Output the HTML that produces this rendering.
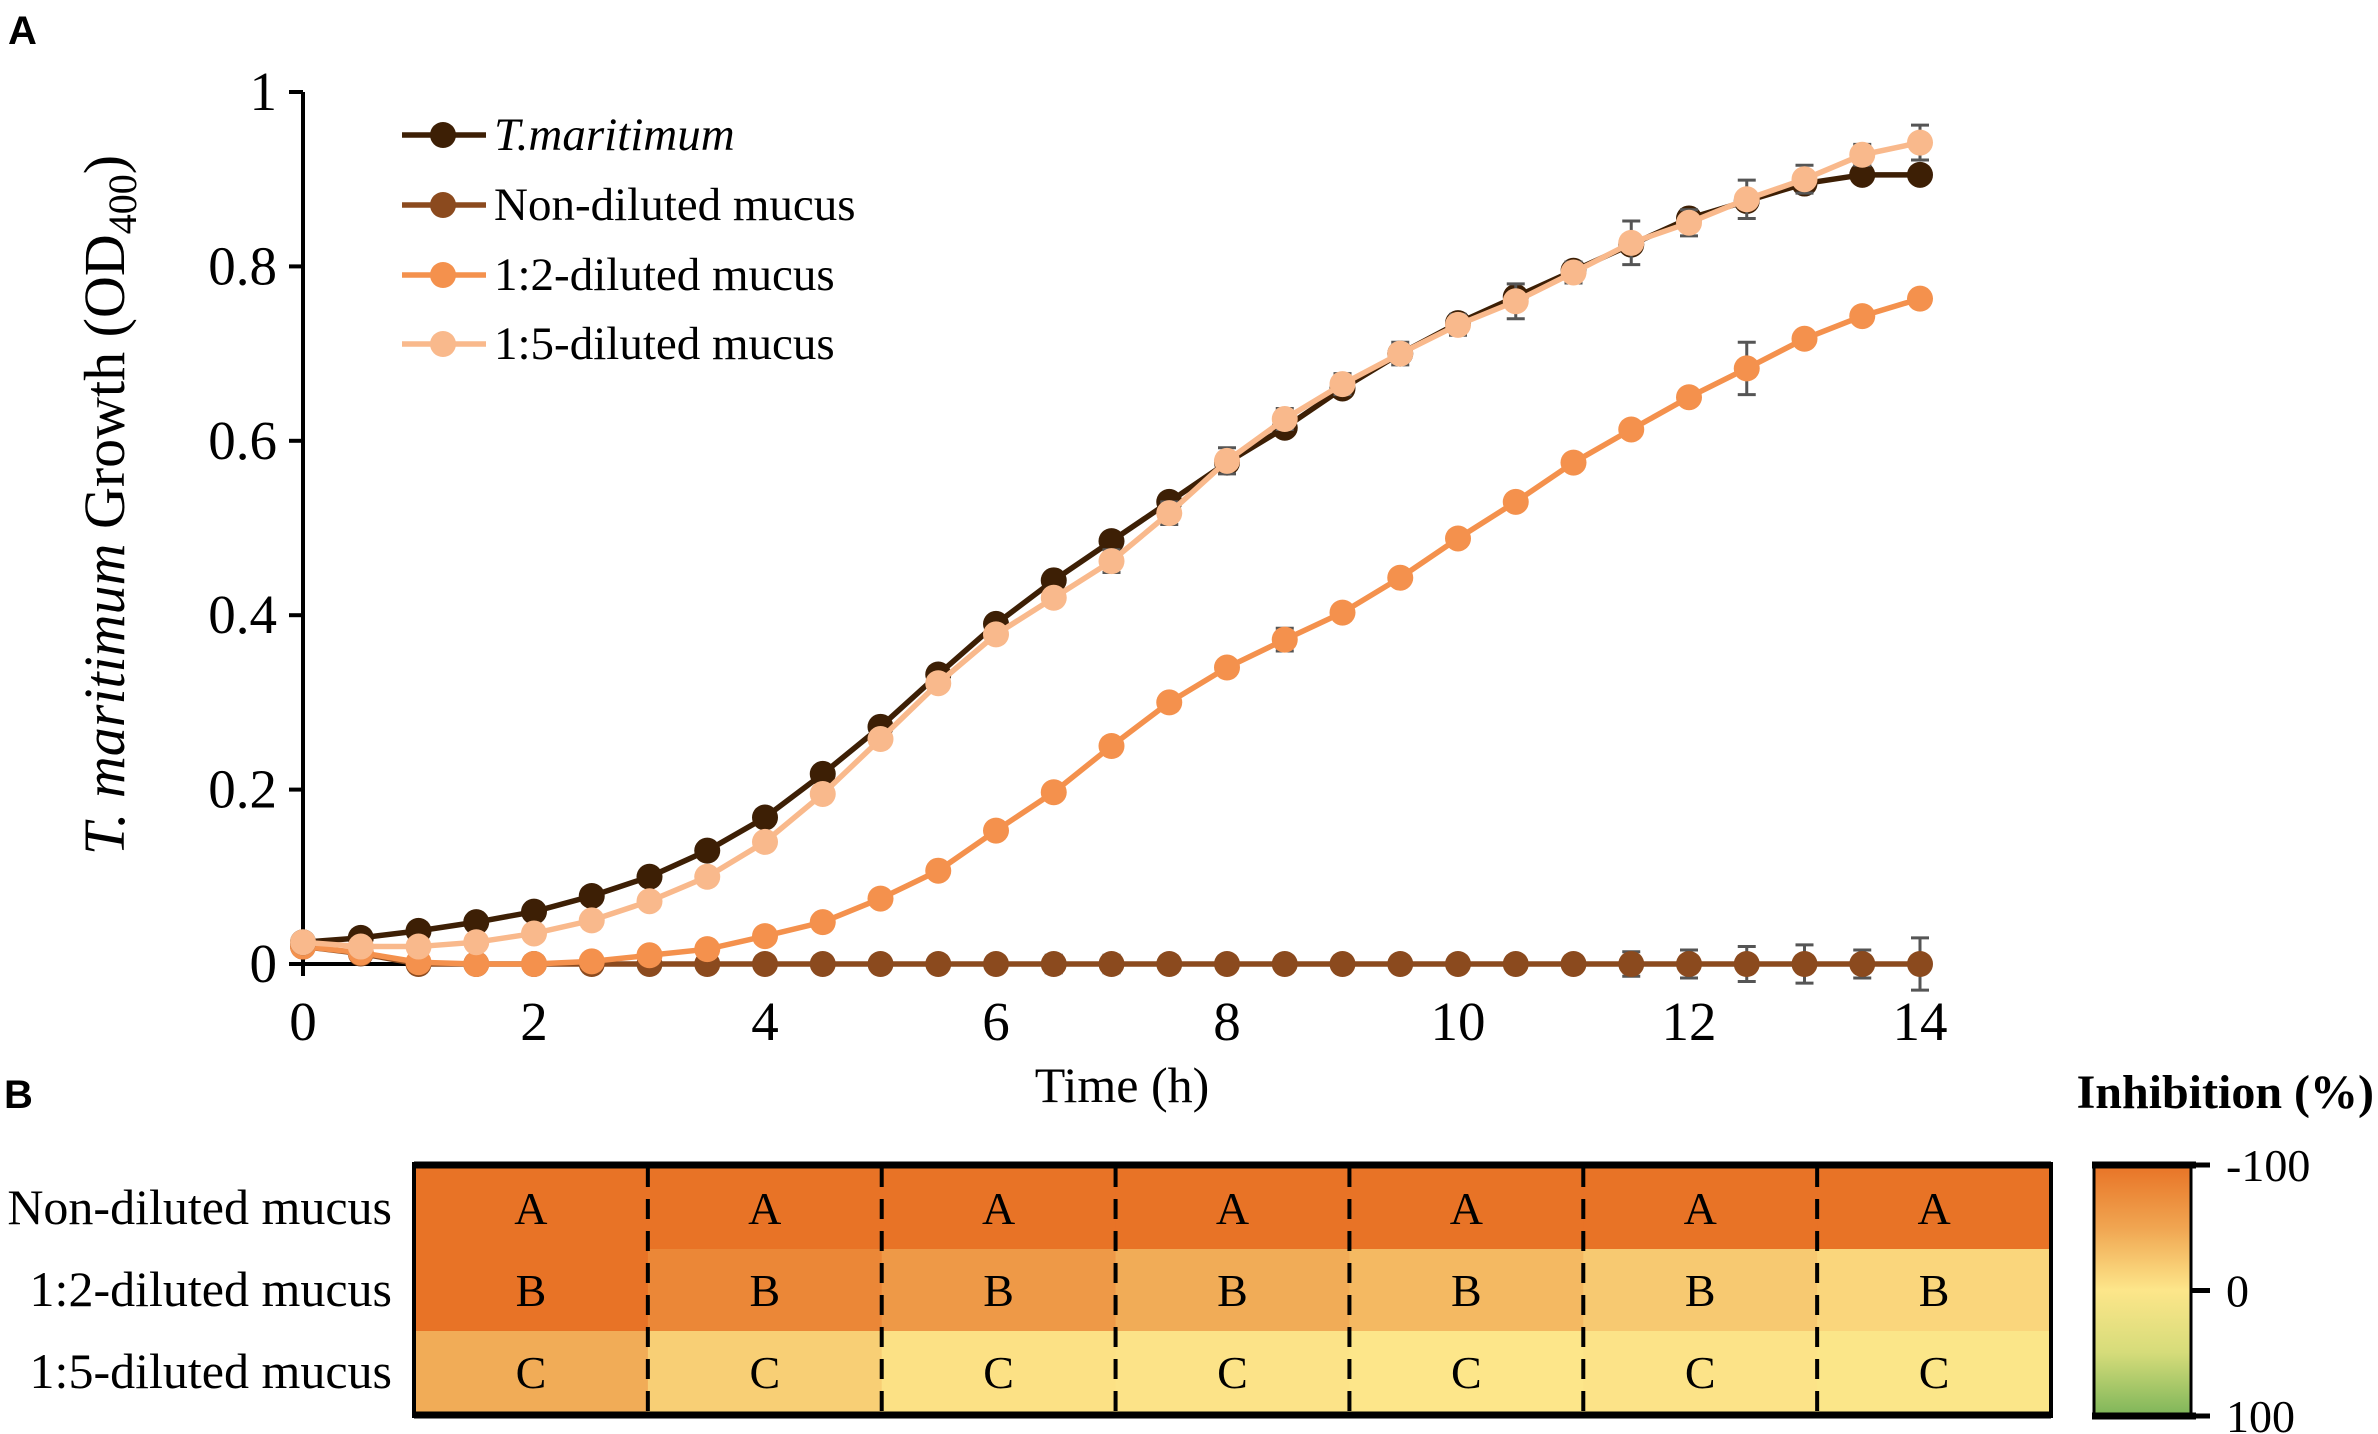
<!DOCTYPE html>
<html><head><meta charset="utf-8"><style>
html,body{margin:0;padding:0;background:#fff;}
svg{display:block;font-family:"Liberation Serif",serif;}
</style></head><body>
<svg id="fig" width="2378" height="1434" viewBox="0 0 2378 1434" xmlns="http://www.w3.org/2000/svg">
<defs>
<linearGradient id="cbar" x1="0" y1="0" x2="0" y2="1">
<stop offset="0" stop-color="#e87326"/>
<stop offset="0.25" stop-color="#f0a551"/>
<stop offset="0.5" stop-color="#fde68a"/>
<stop offset="0.75" stop-color="#d6dc7a"/>
<stop offset="1" stop-color="#7fb65a"/>
</linearGradient>
</defs>
<text x="8" y="44" font-family="Liberation Sans, sans-serif" font-weight="bold" font-size="40">A</text>
<text x="4" y="1108" font-family="Liberation Sans, sans-serif" font-weight="bold" font-size="40">B</text>
<g id="chart"></g>
<g id="heat"></g>
</svg>
<script>
const times = [0,0.5,1,1.5,2,2.5,3,3.5,4,4.5,5,5.5,6,6.5,7,7.5,8,8.5,9,9.5,10,10.5,11,11.5,12,12.5,13,13.5,14];
const tmarValues = [0.025,0.03,0.038,0.048,0.06,0.078,0.1,0.13,0.168,0.218,0.272,0.332,0.39,0.44,0.485,0.53,0.575,0.615,0.66,0.7,0.735,0.765,0.795,0.825,0.855,0.875,0.895,0.905,0.905];
const nonDilValues = [0.02,0.012,0,0,0,0,0,0,0,0,0,0,0,0,0,0,0,0,0,0,0,0,0,0,0,0,0,0,0];
const dil2Values = [0.02,0.013,0.002,0,0,0.003,0.01,0.017,0.032,0.048,0.075,0.107,0.153,0.197,0.25,0.3,0.34,0.372,0.403,0.443,0.488,0.53,0.575,0.613,0.65,0.683,0.717,0.743,0.763];
const dil5Values = [0.025,0.02,0.02,0.025,0.035,0.05,0.072,0.1,0.14,0.195,0.258,0.322,0.378,0.42,0.462,0.517,0.577,0.625,0.665,0.7,0.733,0.76,0.793,0.827,0.85,0.877,0.9,0.928,0.942];
const nonDilErr = [0,0,0,0,0,0,0,0,0.006,0.006,0.006,0.007,0.008,0.01,0.01,0.009,0.009,0,0,0,0.008,0.008,0.009,0.014,0.016,0.02,0.022,0.016,0.03];
const dil2Err = [0,0,0,0,0,0,0,0,0.006,0.007,0.008,0.005,0.004,0.004,0.004,0.004,0.005,0.013,0.004,0.004,0.004,0.005,0.004,0.006,0.004,0.03,0.005,0.008,0.004];
const dil5Err = [0,0,0,0,0,0,0,0,0,0,0,0,0.005,0.006,0.013,0.013,0.015,0.012,0.012,0.013,0.012,0.02,0.012,0.025,0.015,0.022,0.016,0.012,0.02];
const yTicks = [0,0.2,0.4,0.6,0.8,1];
const yTickLabels = ["0","0.2","0.4","0.6","0.8","1"];
const xTicks = [0,2,4,6,8,10,12,14];
const seriesNames = ["T.maritimum","Non-diluted mucus","1:2-diluted mucus","1:5-diluted mucus"];
const seriesColors = ["#3d1f05","#8b4a1e","#f4914d","#f9b98c"];

const NS="http://www.w3.org/2000/svg";
function mk(parent,tag,attrs,text){const e=document.createElementNS(NS,tag);for(const k in attrs)e.setAttribute(k,attrs[k]);if(text!==undefined)e.textContent=text;parent.appendChild(e);return e;}
const X0=303,X1=1920,Y0=964,Y1=92;
const xs=t=>X0+(t-0)/(14-0)*(X1-X0);
const ys=v=>Y0-(v-0)/(1-0)*(Y0-Y1);
const g=document.getElementById('chart');

let a=mk(g,'line',{x1:X0,y1:Y1,x2:X0,y2:Y0,stroke:'#000','stroke-width':4});


a=mk(g,'line',{x1:X0-2,y1:Y0,x2:X1+2,y2:Y0,stroke:'#000','stroke-width':4});


yTicks.forEach((v,i)=>{
  const t=mk(g,'line',{x1:X0-14,y1:ys(v),x2:X0,y2:ys(v),stroke:'#000','stroke-width':4});
  
  
  const l=mk(g,'text',{x:X0-26,y:ys(v)+18,'text-anchor':'end','font-size':55},yTickLabels[i]);
  
  
});
xTicks.forEach(v=>{
  const t=mk(g,'line',{x1:xs(v),y1:Y0,x2:xs(v),y2:Y0+12,stroke:'#000','stroke-width':4});
  
  
  const l=mk(g,'text',{x:xs(v),y:Y0+76,'text-anchor':'middle','font-size':55},String(v));
  
  
});
let xt=mk(g,'text',{x:1122,y:1102,'text-anchor':'middle','font-size':50},'Time (h)');


let yt=mk(g,'text',{transform:'translate(124,505) rotate(-90)','text-anchor':'middle','font-size':58});


mk(yt,'tspan',{'font-style':'italic'},'T. maritimum');
mk(yt,'tspan',{},' Growth (OD');
mk(yt,'tspan',{'font-size':40,dy:12},'400');
mk(yt,'tspan',{dy:-12},')');

const allVals=[tmarValues,nonDilValues,dil2Values,dil5Values];
const allErr=[null,nonDilErr,dil2Err,dil5Err];
const drawOrder=[1,2,0,3];
drawOrder.forEach(si=>{
  const vals=allVals[si],col=seriesColors[si],err=allErr[si];
  const sg=mk(g,'g',{});
  
  
  if(err){
    times.forEach((t,i)=>{
      if(err[i]<=0)return;
      const x=xs(t),yt2=ys(vals[i]+err[i]),yb=ys(vals[i]-err[i]);
      const eb=mk(sg,'path',{d:`M${x},${yt2}V${yb}M${x-9},${yt2}H${x+9}M${x-9},${yb}H${x+9}`,stroke:'#555','stroke-width':3,fill:'none'});
      
      
    });
  }
  const ln=mk(sg,'polyline',{points:times.map((t,i)=>xs(t)+','+ys(vals[i])).join(' '),fill:'none',stroke:col,'stroke-width':5.5});
  
  
  times.forEach((t,i)=>{
    const c=mk(sg,'circle',{cx:xs(t),cy:ys(vals[i]),r:13,fill:col});
    
    
  });
});
const legYs=[135,205,275,344];
seriesNames.forEach((n,i)=>{
  const lg=mk(g,'g',{});
  
  
  mk(lg,'line',{x1:402,y1:legYs[i],x2:486,y2:legYs[i],stroke:seriesColors[i],'stroke-width':5.5});
  mk(lg,'circle',{cx:443,cy:legYs[i],r:13,fill:seriesColors[i]});
  mk(lg,'text',{x:494,y:legYs[i]+15,'font-size':47,'font-style':i===0?'italic':'normal'},n);
});

const rowLabels=["Non-diluted mucus","1:2-diluted mucus","1:5-diluted mucus"];
const rowLetters=["A","B","C"];
const inhibition=[
 [-100,-100,-100,-100,-100,-100,-100],
 [-100,-80,-62,-45,-35,-22,-12],
 [-45,-18,-4,-2,0,-2,2]];
function colorFor(v){
  const stops=[[-100,[232,115,38]],[-50,[240,165,81]],[0,[253,230,138]],[50,[214,220,122]],[100,[127,182,90]]];
  for(let i=0;i<stops.length-1;i++){const[a0,c0]=stops[i],[a1,c1]=stops[i+1];
    if(v<=a1){const f=(v-a0)/(a1-a0);return 'rgb('+c0.map((c,k)=>Math.round(c+(c1[k]-c)*f)).join(',')+')';}}
  return 'rgb(127,182,90)';
}
const h=document.getElementById('heat');
const HX0=414,HX1=2051,HY0=1167,HY1=1413,nc=7,nr=3;
const cw=(HX1-HX0)/nc,rh=(HY1-HY0)/nr;
inhibition.forEach((row,r)=>{
  row.forEach((v,c)=>{
    const rc=mk(h,'rect',{x:HX0+c*cw,y:HY0+r*rh,width:cw+0.5,height:rh+0.5,fill:colorFor(v)});
    
    
    const tx=mk(h,'text',{x:HX0+(c+0.5)*cw,y:HY0+(r+0.5)*rh+16,'text-anchor':'middle','font-size':46},rowLetters[r]);
    
    
  });
  const rl=mk(h,'text',{x:392,y:HY0+(r+0.5)*rh+16,'text-anchor':'end','font-size':50},rowLabels[r]);
  
  
});
for(let c=1;c<nc;c++){
  const d=mk(h,'line',{x1:HX0+c*cw,y1:HY0,x2:HX0+c*cw,y2:HY1,stroke:'#000','stroke-width':4,'stroke-dasharray':'20,12'});
  
  
}
let fr=mk(h,'rect',{x:HX0,y:HY0-3,width:HX1-HX0,height:HY1-HY0+6,fill:'none',stroke:'#000','stroke-width':4});


mk(h,'line',{x1:HX0,y1:HY0-2,x2:HX1,y2:HY0-2,stroke:'#000','stroke-width':7});
mk(h,'line',{x1:HX0,y1:HY1+2,x2:HX1,y2:HY1+2,stroke:'#000','stroke-width':7});
const cb=mk(h,'rect',{x:2094,y:1165,width:97,height:250,fill:'url(#cbar)',stroke:'#000','stroke-width':3});


mk(h,'line',{x1:2092,y1:1165,x2:2196,y2:1165,stroke:'#000','stroke-width':7});
mk(h,'line',{x1:2092,y1:1416,x2:2196,y2:1416,stroke:'#000','stroke-width':7});
const cbTicks=[-100,0,100];
cbTicks.forEach(v=>{
  const y=1165+(v+100)/200*251;
  const tk=mk(h,'line',{x1:2190,y1:y,x2:2210,y2:y,stroke:'#000','stroke-width':5});
  
  
  const tl=mk(h,'text',{x:2226,y:y+16,'font-size':46},String(v));
  
  
});
const ct=mk(h,'text',{x:2374,y:1108,'text-anchor':'end','font-size':48,'font-weight':'bold'},'Inhibition (%)');


</script>
</body></html>
